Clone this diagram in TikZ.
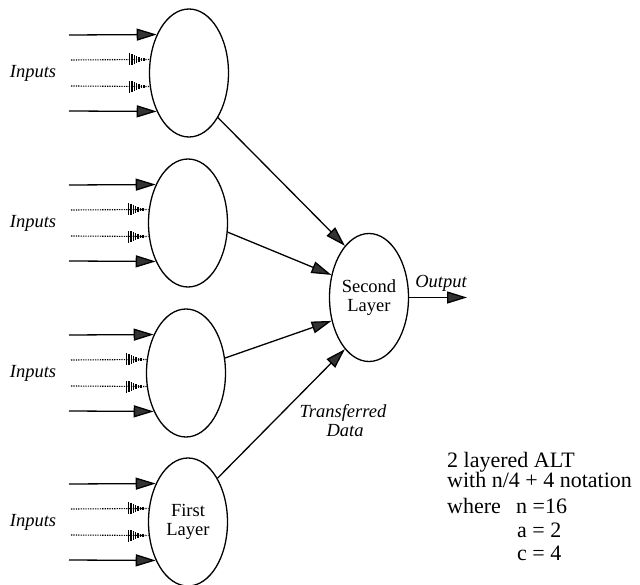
\documentclass[tikz,border=0pt]{standalone}
\usepackage{fontspec}
\setmainfont{Liberation Serif}
\usetikzlibrary{arrows.meta,shapes.geometric}

\tikzset{
  unit/.style={ellipse, draw, line width=1.3pt, minimum width=79pt,
    minimum height=128pt, inner sep=0pt, align=center,
    font=\fontsize{18.5}{19.5}\selectfont},
  feed/.style={line width=1.3pt,
    -{Triangle[length=20pt,width=12pt,fill=black!80]}},
  weak/.style={line width=1.1pt, dash pattern=on 1.3pt off 1.1pt},
  lbl/.style={font=\fontsize{18.5}{19.5}\selectfont\itshape},
  note/.style={font=\fontsize{22}{23}\selectfont, anchor=base west, inner sep=0pt},
  pics/hatchtip/.style={code={
    \foreach \i/\h in {0/6,1/5.4,2/4.6,3/3.7,4/2.8,5/1.9,6/1.2}
      \fill (-21+2.4*\i,-\h) rectangle ++(1.4,2*\h);
  }}
}

\begin{document}
\begin{tikzpicture}[x=1pt,y=-1pt]
  \useasboundingbox (0,0) rectangle (640,585);

  % first-layer units
  \node[unit] (e1) at (189,73)  {};
  \node[unit] (e2) at (188,223) {};
  \node[unit] (e3) at (186,373) {};
  \node[unit] (e4) at (188,522) {First\\Layer};

  % second-layer unit
  \node[unit] (sl) at (369,297.5) {Second\\Layer};

  % inputs into each first-layer unit
  \foreach \n/\cy in {1/73,2/223,3/373,4/522}{
    \node[lbl] (in\n) at (33,\cy) {Inputs};
    \coordinate (p\n) at (69,\cy-38);
    \coordinate (q\n) at (71,\cy-13);
    \coordinate (r\n) at (71,\cy+13);
    \coordinate (t\n) at (69,\cy+38);
    \draw[feed] (p\n) -- (e\n.130);
    \draw[weak] (q\n) -- (e\n.161) pic{hatchtip};
    \draw[weak] (r\n) -- (e\n.199) pic{hatchtip};
    \draw[feed] (t\n) -- (e\n.230);
  }

  % transferred data
  \draw[feed] (e1.-57) -- (sl.115);
  \draw[feed] (e2.-13) -- (sl.149);
  \draw[feed] (e3.21)  -- (sl.-148);
  \draw[feed] (e4.56)  -- (sl.-115);

  % output
  \coordinate (out) at (467,297.5);
  \draw[feed] (sl.east) -- (out);
  \node[lbl] (outlbl) at (441,283) {Output};

  \node[lbl] (tr1) at (343,413) {Transferred};
  \node[lbl] (tr2) at (345,431) {Data};

  % notation
  \node[note] (n1) at (447,467) {2 layered ALT};
  \node[note] (n2) at (447,487) {with n/4 + 4 notation};
  \node[note] (n3) at (447,513) {where};
  \node[note] (n4) at (516,513) {n =16};
  \node[note] (n5) at (517,537) {a = 2};
  \node[note] (n6) at (517,560) {c = 4};
\end{tikzpicture}
\end{document}
